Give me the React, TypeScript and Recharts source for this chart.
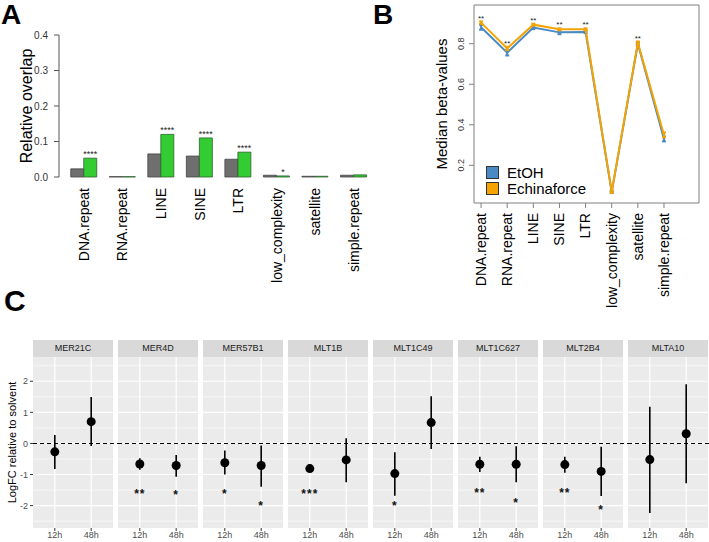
import React from "react";
import {
  BarChart, Bar, XAxis, YAxis, LabelList, LineChart, Line, ErrorBar,
  ReferenceArea, Legend, ComposedChart, Scatter, CartesianGrid, ReferenceLine,
} from "recharts";

const FONT = "'Liberation Sans', Arial, Helvetica, sans-serif";

// ---------------- Panel A data ----------------
const repeatClasses = ["DNA.repeat", "RNA.repeat", "LINE", "SINE", "LTR", "low_complexity", "satellite", "simple.repeat"];
const overlapSolvent = [0.023, 0.001, 0.065, 0.059, 0.05, 0.005, 0.002, 0.005];
const overlapEchinaforce = [0.053, 0.001, 0.12, 0.11, 0.07, 0.003, 0.002, 0.006];
const overlapStars = ["****", "", "****", "****", "****", "*", "", ""];
const overlapTicks = [0, 0.1, 0.2, 0.3, 0.4];

// ---------------- Panel B data ----------------
const betaSeries = ["EtOH", "Echinaforce"];
const betaPositions = [1, 2, 3, 4, 5, 6, 7, 8];
const betaEtOH = [0.881, 0.756, 0.88, 0.856, 0.858, 0.068, 0.8, 0.33];
const betaEtOHErr = [0.012, 0.014, 0.008, 0.009, 0.006, 0.005, 0.006, 0.012];
const betaEchinaforce = [0.904, 0.777, 0.894, 0.871, 0.871, 0.07, 0.805, 0.35];
const betaEchinaforceErr = [0.006, 0.008, 0.005, 0.005, 0.005, 0.006, 0.006, 0.012];
const betaStars = ["**", "**", "**", "**", "**", "", "**", ""];
const betaTicks = [0.2, 0.4, 0.6, 0.8];
const betaXDomain = [0.73, 9.34];
const betaYDomain = [0.014, 0.991];

// ---------------- Panel C data ----------------
const facets = ["MER21C", "MER4D", "MER57B1", "MLT1B", "MLT1C49", "MLT1C627", "MLT2B4", "MLTA10"];
const timepoints = ["12h", "48h"];
const logFC12h = [-0.27, -0.66, -0.62, -0.81, -0.97, -0.67, -0.68, -0.52];
const lower12h = [-0.82, -0.85, -1.0, -0.86, -1.68, -0.92, -0.94, -2.24];
const upper12h = [0.27, -0.48, -0.23, -0.76, -0.28, -0.43, -0.43, 1.18];
const stars12h = ["", "**", "*", "***", "*", "**", "**", ""];
const starsY12h = [0, -1.53, -1.53, -1.53, -1.93, -1.5, -1.5, 0];
const logFC48h = [0.7, -0.71, -0.71, -0.53, 0.67, -0.67, -0.9, 0.31];
const lower48h = [-0.08, -1.07, -1.39, -1.25, -0.18, -1.25, -1.69, -1.28];
const upper48h = [1.49, -0.37, -0.07, 0.17, 1.52, -0.09, -0.11, 1.9];
const stars48h = ["", "*", "*", "", "", "*", "*", ""];
const starsY48h = [0, -1.57, -1.9, 0, 0, -1.82, -2.06, 0];
const logFCTicks = [-2, -1, 0, 1, 2];
const logFCMinor = [-2.5, -1.5, -0.5, 0.5, 1.5, 2.5];
const logFCDomain = [-2.72, 2.78];
const timeDomain = [0.4, 2.6];

// layout constants for panel C
const C_LEFT = 33;
const FACET_W = 80;
const FACET_GAP = 5;
const C_TOP = 340;

const overlapData = repeatClasses.map((name, i) => ({
  name,
  solvent: overlapSolvent[i],
  echinaforce: overlapEchinaforce[i],
  star: overlapStars[i],
}));

const betaData = repeatClasses.map((name, i) => ({
  pos: betaPositions[i],
  name,
  etoh: betaEtOH[i],
  etohErr: betaEtOHErr[i],
  echina: betaEchinaforce[i],
  echinaErr: betaEchinaforceErr[i],
  star: betaStars[i],
}));

const RotLabel = (props: any) => {
  const { x, y, payload, offsetY, size, names } = props;
  const text = names ? names[Math.round(payload.value) - 1] : payload.value;
  const ty = y + offsetY;
  return (
    <text x={x} y={ty} transform={`rotate(-90, ${x}, ${ty})`} textAnchor="end" dy="0.35em"
      fontSize={size} fontFamily={FONT} fill="#000">{text}</text>
  );
};

const BarStar = (props: any) => {
  const { x, y, width, value } = props;
  if (!value) return null;
  return (
    <text x={x + width / 2} y={y - 1} textAnchor="middle" fontSize={9} fill="#222" fontFamily={FONT}>{value}</text>
  );
};

const LineStar = (props: any) => {
  const { x, y, value } = props;
  if (!value) return null;
  return (
    <text x={x} y={y - 2} textAnchor="middle" fontSize={8} fill="#222" fontFamily={FONT}>{value}</text>
  );
};

const BetaYTick = (props: any) => {
  const { x, y, payload } = props;
  const tx = x - 3;
  return (
    <text x={tx} y={y} transform={`rotate(-90, ${tx}, ${y})`} textAnchor="middle" fontSize={9}
      fill="#333" fontFamily={FONT}>{Number(payload.value).toFixed(1)}</text>
  );
};

const BetaLegend = (props: any) => {
  const payload = [...(props.payload || [])].sort(
    (a: any, b: any) => betaSeries.indexOf(a.value) - betaSeries.indexOf(b.value)
  );
  return (
    <div style={{ fontFamily: FONT, fontSize: 15, color: "#000" }}>
      {payload.map((e: any) => (
        <div key={e.value} style={{ display: "flex", alignItems: "center", height: 16 }}>
          <span style={{ display: "inline-block", width: 11, height: 11, background: e.color, border: "1px solid #333", marginRight: 8 }} />
          <span>{e.value}</span>
        </div>
      ))}
    </div>
  );
};

const Letter = ({ text, left, top, size }: any) => (
  <div style={{ position: "absolute", left, top, fontFamily: FONT, fontWeight: 700, fontSize: size, lineHeight: `${size}px`, color: "#000" }}>{text}</div>
);

function PanelA() {
  return (
    <BarChart width={380} height={310} data={overlapData} margin={{ top: 35, right: 7, left: 0, bottom: 0 }}
      barGap={0} barSize={13}>
      <XAxis dataKey="name" type="category" interval={0} height={133} axisLine={false} tickLine={false}
        tickSize={0} tickMargin={0} padding={{ left: 5.75, right: 0 }}
        tick={(p: any) => <RotLabel {...p} offsetY={11} size={14} />} />
      <YAxis type="number" domain={[0, 0.4]} ticks={overlapTicks} width={59} tickSize={5} tickMargin={6}
        axisLine={{ stroke: "#555" }} tickLine={{ stroke: "#555" }}
        tickFormatter={(v: number) => v.toFixed(1)}
        tick={{ fontSize: 10, fill: "#333", fontFamily: FONT }}
        label={{ value: "Relative overlap", angle: -90, position: "insideLeft", offset: 26,
          style: { textAnchor: "middle", fontSize: 16, fill: "#000", fontFamily: FONT } }} />
      <Bar dataKey="solvent" fill="#6f6f6f" stroke="#444" strokeWidth={0.8} isAnimationActive={false} />
      <Bar dataKey="echinaforce" fill="#33cc33" stroke="#2d5f2d" strokeWidth={0.8} isAnimationActive={false}>
        <LabelList dataKey="star" content={BarStar} />
      </Bar>
    </BarChart>
  );
}

function PanelB() {
  return (
    <LineChart width={349} height={310} data={betaData} margin={{ top: 5, right: 10, left: 0, bottom: 0 }}>
      <XAxis dataKey="pos" type="number" domain={betaXDomain} ticks={betaPositions} allowDataOverflow interval={0}
        height={107} axisLine={false} tickSize={5} tickMargin={2} tickLine={{ stroke: "#7f7f7f" }}
        tick={(p: any) => <RotLabel {...p} offsetY={3} size={14} names={repeatClasses} />} />
      <YAxis type="number" domain={betaYDomain} ticks={betaTicks} allowDataOverflow width={114}
        axisLine={false} tickSize={5} tickMargin={2} tickLine={{ stroke: "#7f7f7f" }}
        tick={BetaYTick}
        label={{ value: "Median beta-values", angle: -90, position: "insideLeft", offset: 82,
          style: { textAnchor: "middle", fontSize: 15, fill: "#000", fontFamily: FONT } }} />
      <ReferenceArea x1={betaXDomain[0]} x2={betaXDomain[1]} y1={betaYDomain[0]} y2={betaYDomain[1]}
        fill="none" fillOpacity={0} stroke="#7f7f7f" strokeWidth={1} ifOverflow="visible" />
      <Line dataKey="etoh" name={betaSeries[0]} stroke="#4a8ac4" strokeWidth={2} dot={false} isAnimationActive={false}>
        <ErrorBar dataKey="etohErr" direction="y" width={2} stroke="#4a8ac4" strokeWidth={2} isAnimationActive={false} />
      </Line>
      <Line dataKey="echina" name={betaSeries[1]} stroke="#f5a300" strokeWidth={2} dot={false} isAnimationActive={false}>
        <ErrorBar dataKey="echinaErr" direction="y" width={2} stroke="#f5a300" strokeWidth={2} isAnimationActive={false} />
        <LabelList dataKey="star" content={LineStar} />
      </Line>
      <Legend layout="vertical" align="center" verticalAlign="middle" content={BetaLegend}
        wrapperStyle={{ position: "absolute", left: 126, top: 164, width: "auto", height: "auto" }} />
    </LineChart>
  );
}

const DotShape = (props: any) => <circle cx={props.cx} cy={props.cy} r={4.5} fill="#000" />;
const StarShape = (props: any) => (
  <text x={props.cx} y={props.cy + 7} textAnchor="middle" fontSize={12} fontWeight={700} letterSpacing={1}
    fill="#111" fontFamily={FONT}>{props.payload.s}</text>
);

function Facet({ i }: { i: number }) {
  const first = i === 0;
  const last = i === facets.length - 1;
  const axisW = first ? C_LEFT : 0;
  const gap = last ? 1 : FACET_GAP;
  const plotLeft = C_LEFT + i * (FACET_W + FACET_GAP);
  const gapUnits = (gap / FACET_W) * (timeDomain[1] - timeDomain[0]);
  const pts = [
    { t: 1, v: logFC12h[i], err: [logFC12h[i] - lower12h[i], upper12h[i] - logFC12h[i]] },
    { t: 2, v: logFC48h[i], err: [logFC48h[i] - lower48h[i], upper48h[i] - logFC48h[i]] },
  ];
  const stars = [
    { t: 1, sy: starsY12h[i], s: stars12h[i] },
    { t: 2, sy: starsY48h[i], s: stars48h[i] },
  ].filter((d) => d.s);
  return (
    <>
      <div style={{ position: "absolute", left: plotLeft, top: C_TOP, width: FACET_W, height: 17, background: "#d9d9d9",
        fontFamily: FONT, fontSize: 9, color: "#1a1a1a", textAlign: "center", lineHeight: "17px" }}>{facets[i]}</div>
      <div style={{ position: "absolute", left: plotLeft - axisW, top: C_TOP }}>
        <ComposedChart width={axisW + FACET_W + gap} height={202} data={pts}
          margin={{ top: 17, right: gap, bottom: 0, left: 0 }}>
          <CartesianGrid fill="#ebebeb" fillOpacity={1} stroke="#ffffff" strokeWidth={0.6}
            horizontalValues={logFCMinor} vertical={false} />
          <CartesianGrid stroke="#ffffff" strokeWidth={1.2} horizontalValues={logFCTicks} verticalValues={[1, 2]} />
          <XAxis dataKey="t" type="number" domain={timeDomain} ticks={[1, 2]} allowDataOverflow interval={0}
            tickFormatter={(v: number) => timepoints[v - 1]} height={14} tickSize={3} tickMargin={1}
            axisLine={false} tickLine={{ stroke: "#333" }}
            tick={{ fontSize: 9, fill: "#4d4d4d", fontFamily: FONT }} />
          <YAxis type="number" domain={logFCDomain} ticks={logFCTicks} allowDataOverflow hide={!first} width={axisW}
            axisLine={false} tickSize={3} tickMargin={2} tickLine={{ stroke: "#333" }}
            tick={{ fontSize: 9, fill: "#4d4d4d", fontFamily: FONT }}
            label={first ? { value: "LogFC relative to solvent", angle: -90, position: "insideLeft", offset: 12,
              style: { textAnchor: "middle", fontSize: 11, fill: "#000", fontFamily: FONT } } : undefined} />
          <ReferenceLine segment={[{ x: timeDomain[0], y: 0 }, { x: timeDomain[1] + gapUnits, y: 0 }]}
            stroke="#000" strokeDasharray="4 3" strokeWidth={1.1} ifOverflow="visible" />
          <Scatter dataKey="v" fill="#000" shape={DotShape} isAnimationActive={false}>
            <ErrorBar dataKey="err" direction="y" width={0} stroke="#000" strokeWidth={1.6} isAnimationActive={false} />
          </Scatter>
          <Scatter data={stars} dataKey="sy" shape={StarShape} isAnimationActive={false} />
        </ComposedChart>
      </div>
    </>
  );
}

export default function App() {
  return (
    <div style={{ position: "absolute", left: 0, top: 0, width: 709, height: 542, overflow: "hidden", background: "#fff", fontFamily: FONT }}>
      <div style={{ position: "absolute", left: 0, top: 0 }}><PanelA /></div>
      <div style={{ position: "absolute", left: 360, top: 0 }}><PanelB /></div>
      {facets.map((f, i) => <Facet key={f} i={i} />)}
      <Letter text="A" left={1} top={1} size={28} />
      <Letter text="B" left={373} top={1} size={28} />
      <Letter text="C" left={4} top={286} size={30} />
    </div>
  );
}
